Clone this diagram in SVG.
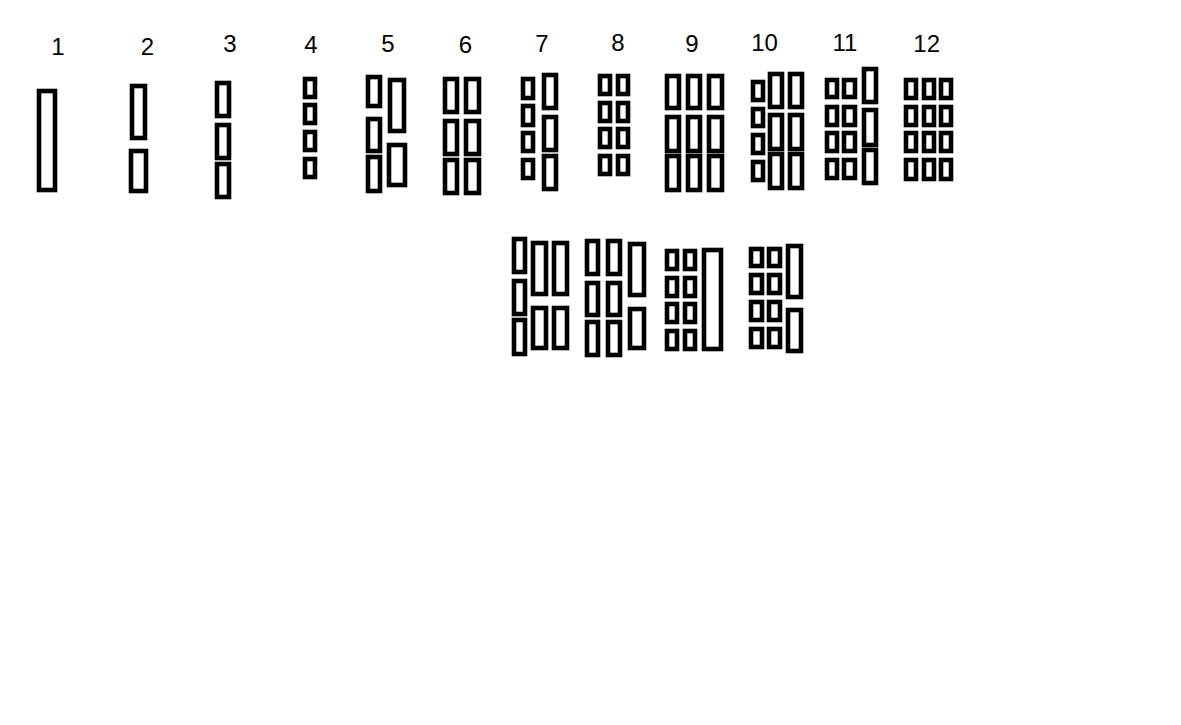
<svg xmlns="http://www.w3.org/2000/svg" width="1181" height="725" viewBox="0 0 1181 725">
<style>
.b{fill:none;stroke:#000;stroke-width:4.6}
.t{font-family:"Liberation Sans",Arial,sans-serif;font-size:24px;fill:#000;text-anchor:middle}
</style>
<rect width="1181" height="725" fill="#fff"/>
<g id="labels">
<text class="t" x="58" y="55">1</text>
<text class="t" x="147.5" y="54.5">2</text>
<text class="t" x="230" y="52">3</text>
<text class="t" x="311" y="53">4</text>
<text class="t" x="388" y="52">5</text>
<text class="t" x="465.5" y="52.5">6</text>
<text class="t" x="542" y="52">7</text>
<text class="t" x="618" y="51">8</text>
<text class="t" x="692" y="52">9</text>
<text class="t" x="764.5" y="51">10</text>
<text class="t" x="845" y="51">11</text>
<text class="t" x="926.7" y="52">12</text>
</g>
<g id="n1"><rect class="b" x="39" y="91" width="16" height="99"/></g>
<g id="n2">
<rect class="b" x="132" y="86" width="13" height="52"/>
<rect class="b" x="131" y="151" width="15" height="40"/>
</g>
<g id="n3">
<rect class="b" x="217" y="83" width="12" height="33"/>
<rect class="b" x="217" y="125" width="12" height="33"/>
<rect class="b" x="217" y="164" width="12" height="33"/>
</g>
<g id="n4">
<rect class="b" x="305" y="79" width="10" height="18"/>
<rect class="b" x="305" y="105" width="10" height="18"/>
<rect class="b" x="305" y="132" width="10" height="18"/>
<rect class="b" x="305" y="159" width="10" height="18"/>
</g>
<g id="n5">
<rect class="b" x="368" y="77" width="12" height="29"/>
<rect class="b" x="368" y="119" width="12" height="32"/>
<rect class="b" x="368" y="157" width="12" height="34"/>
<rect class="b" x="390" y="80" width="14" height="51"/>
<rect class="b" x="389" y="145" width="16" height="40"/>
</g>
<g id="n6">
<rect class="b" x="445" y="79" width="12" height="33"/>
<rect class="b" x="445" y="121" width="12" height="33"/>
<rect class="b" x="445" y="160" width="12" height="33"/>
<rect class="b" x="466" y="79" width="13" height="33"/>
<rect class="b" x="466" y="121" width="13" height="33"/>
<rect class="b" x="466" y="160" width="13" height="33"/>
</g>
<g id="n7">
<rect class="b" x="523" y="79" width="10" height="19"/>
<rect class="b" x="523" y="106" width="10" height="19"/>
<rect class="b" x="523" y="133" width="10" height="18"/>
<rect class="b" x="523" y="160" width="10" height="18"/>
<rect class="b" x="544" y="75" width="12" height="33"/>
<rect class="b" x="544" y="117" width="12" height="33"/>
<rect class="b" x="544" y="156" width="12" height="33"/>
</g>
<g id="n8">
<rect class="b" x="600" y="76" width="10" height="18"/>
<rect class="b" x="600" y="103" width="10" height="18"/>
<rect class="b" x="600" y="129" width="10" height="18"/>
<rect class="b" x="600" y="156" width="10" height="18"/>
<rect class="b" x="618" y="76" width="10" height="18"/>
<rect class="b" x="618" y="103" width="10" height="18"/>
<rect class="b" x="618" y="129" width="10" height="18"/>
<rect class="b" x="618" y="156" width="10" height="18"/>
</g>
<g id="n9">
<rect class="b" x="667" y="76" width="12" height="32"/>
<rect class="b" x="667" y="117" width="12" height="34"/>
<rect class="b" x="667" y="156" width="12" height="34"/>
<rect class="b" x="688" y="76" width="12" height="32"/>
<rect class="b" x="688" y="117" width="12" height="34"/>
<rect class="b" x="688" y="156" width="12" height="34"/>
<rect class="b" x="709" y="76" width="13" height="32"/>
<rect class="b" x="709" y="117" width="13" height="34"/>
<rect class="b" x="709" y="156" width="13" height="34"/>
</g>
<g id="n10">
<rect class="b" x="753" y="82" width="10" height="18"/>
<rect class="b" x="753" y="109" width="10" height="17"/>
<rect class="b" x="753" y="135" width="10" height="18"/>
<rect class="b" x="753" y="162" width="10" height="18"/>
<rect class="b" x="770" y="74" width="12" height="33"/>
<rect class="b" x="770" y="115" width="12" height="34"/>
<rect class="b" x="770" y="154" width="12" height="34"/>
<rect class="b" x="790" y="74" width="12" height="33"/>
<rect class="b" x="790" y="115" width="12" height="34"/>
<rect class="b" x="790" y="154" width="12" height="34"/>
</g>
<g id="n11">
<rect class="b" x="827" y="80" width="10" height="17"/>
<rect class="b" x="827" y="107" width="10" height="18"/>
<rect class="b" x="827" y="133" width="10" height="18"/>
<rect class="b" x="827" y="160" width="10" height="18"/>
<rect class="b" x="844" y="80" width="11" height="17"/>
<rect class="b" x="844" y="107" width="11" height="18"/>
<rect class="b" x="844" y="133" width="11" height="18"/>
<rect class="b" x="844" y="160" width="11" height="18"/>
<rect class="b" x="864" y="69" width="12" height="33"/>
<rect class="b" x="864" y="110" width="12" height="35"/>
<rect class="b" x="864" y="150" width="12" height="33"/>
</g>
<g id="n12">
<rect class="b" x="906" y="80" width="10" height="18"/>
<rect class="b" x="906" y="107" width="10" height="18"/>
<rect class="b" x="906" y="133" width="10" height="18"/>
<rect class="b" x="906" y="160" width="10" height="19"/>
<rect class="b" x="924" y="80" width="10" height="18"/>
<rect class="b" x="924" y="107" width="10" height="18"/>
<rect class="b" x="924" y="133" width="10" height="18"/>
<rect class="b" x="924" y="160" width="10" height="19"/>
<rect class="b" x="941" y="80" width="10" height="18"/>
<rect class="b" x="941" y="107" width="10" height="18"/>
<rect class="b" x="941" y="133" width="10" height="18"/>
<rect class="b" x="941" y="160" width="10" height="19"/>
</g>
<g id="n13">
<rect class="b" x="514" y="239" width="11" height="33"/>
<rect class="b" x="514" y="281" width="11" height="33"/>
<rect class="b" x="514" y="320" width="11" height="34"/>
<rect class="b" x="533" y="243" width="13" height="51"/>
<rect class="b" x="554" y="243" width="13" height="51"/>
<rect class="b" x="533" y="308" width="13" height="40"/>
<rect class="b" x="554" y="308" width="13" height="40"/>
</g>
<g id="n14">
<rect class="b" x="587" y="241" width="11" height="33"/>
<rect class="b" x="587" y="283" width="11" height="32"/>
<rect class="b" x="587" y="322" width="11" height="33"/>
<rect class="b" x="608" y="241" width="12" height="33"/>
<rect class="b" x="608" y="283" width="12" height="32"/>
<rect class="b" x="608" y="322" width="12" height="33"/>
<rect class="b" x="630" y="244" width="14" height="51"/>
<rect class="b" x="630" y="309" width="14" height="39"/>
</g>
<g id="n15">
<rect class="b" x="667" y="251" width="10" height="18"/>
<rect class="b" x="667" y="278" width="10" height="18"/>
<rect class="b" x="667" y="304" width="10" height="18"/>
<rect class="b" x="667" y="331" width="10" height="18"/>
<rect class="b" x="685" y="251" width="10" height="18"/>
<rect class="b" x="685" y="278" width="10" height="18"/>
<rect class="b" x="685" y="304" width="10" height="18"/>
<rect class="b" x="685" y="331" width="10" height="18"/>
<rect class="b" x="704" y="250" width="17" height="99"/>
</g>
<g id="n16">
<rect class="b" x="751" y="249" width="11" height="17"/>
<rect class="b" x="751" y="275" width="11" height="18"/>
<rect class="b" x="751" y="302" width="11" height="18"/>
<rect class="b" x="751" y="329" width="11" height="18"/>
<rect class="b" x="769" y="249" width="11" height="17"/>
<rect class="b" x="769" y="275" width="11" height="18"/>
<rect class="b" x="769" y="302" width="11" height="18"/>
<rect class="b" x="769" y="329" width="11" height="18"/>
<rect class="b" x="788" y="246" width="13" height="51"/>
<rect class="b" x="788" y="310" width="13" height="41"/>
</g>
<g id="connectors"/>
</svg>
